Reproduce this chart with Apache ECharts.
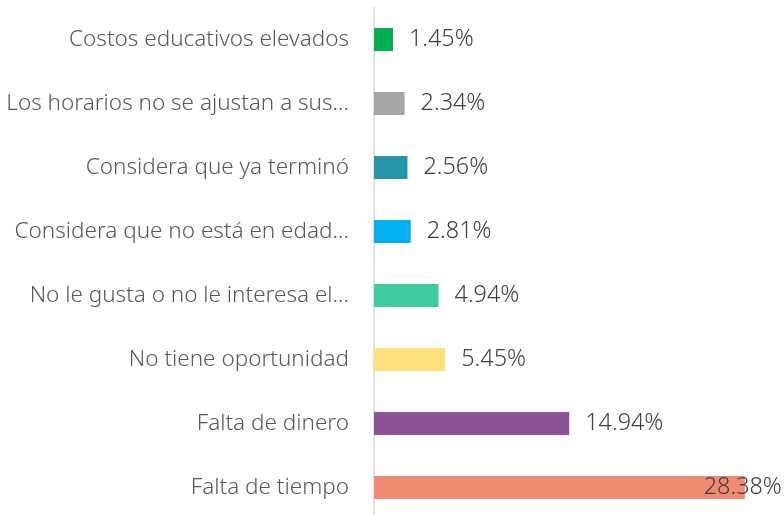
<!DOCTYPE html>
<html><head><meta charset="utf-8">
<script src="https://cdn.jsdelivr.net/npm/echarts@6/dist/echarts.min.js"></script>
<style>html,body{margin:0;padding:0;background:#fff}#c{width:784px;height:515px}</style>
</head><body><div id="c"></div>
<script>
var categories = ["Costos educativos elevados","Los horarios no se ajustan a sus…","Considera que ya terminó","Considera que no está en edad…","No le gusta o no le interesa el…","No tiene oportunidad","Falta de dinero","Falta de tiempo"];
var values = [1.45, 2.34, 2.56, 2.81, 4.94, 5.45, 14.94, 28.38];
var colors = ["#00B050","#A5A5A5","#2596A8","#00B0F0","#3ECCA0","#FFE07A","#8B5396","#F08A72"];
var chart = echarts.init(document.getElementById('c'));
var data = values.map(function(v,i){
  var d = {value: v, itemStyle:{color: colors[i]}};
  if (i === values.length-1) d.label = {position:'insideRight', offset:[53,0]};
  return d;
});
chart.setOption({
  animation:false,
  grid:{left:374, top:7.5, width:392, height:512, containLabel:false, outerBoundsMode:'none'},
  xAxis:{type:'value', min:0, max:30, show:false},
  yAxis:{type:'category', inverse:true, data:categories,
    axisLine:{show:true, lineStyle:{color:'#D9D9D9', width:1.5}},
    axisTick:{show:false},
    axisLabel:{fontFamily:'Noto Sans', fontWeight:300, fontSize:22.5, color:'#595959', margin:25}},
  series:[{type:'bar', data:data, barWidth:23,
    label:{show:true, position:'right', distance:16, fontFamily:'Noto Sans', fontWeight:300, fontSize:23.4, color:'#404040',
      formatter:function(p){return p.value.toFixed(2)+'%';}}}]
});
</script></body></html>
